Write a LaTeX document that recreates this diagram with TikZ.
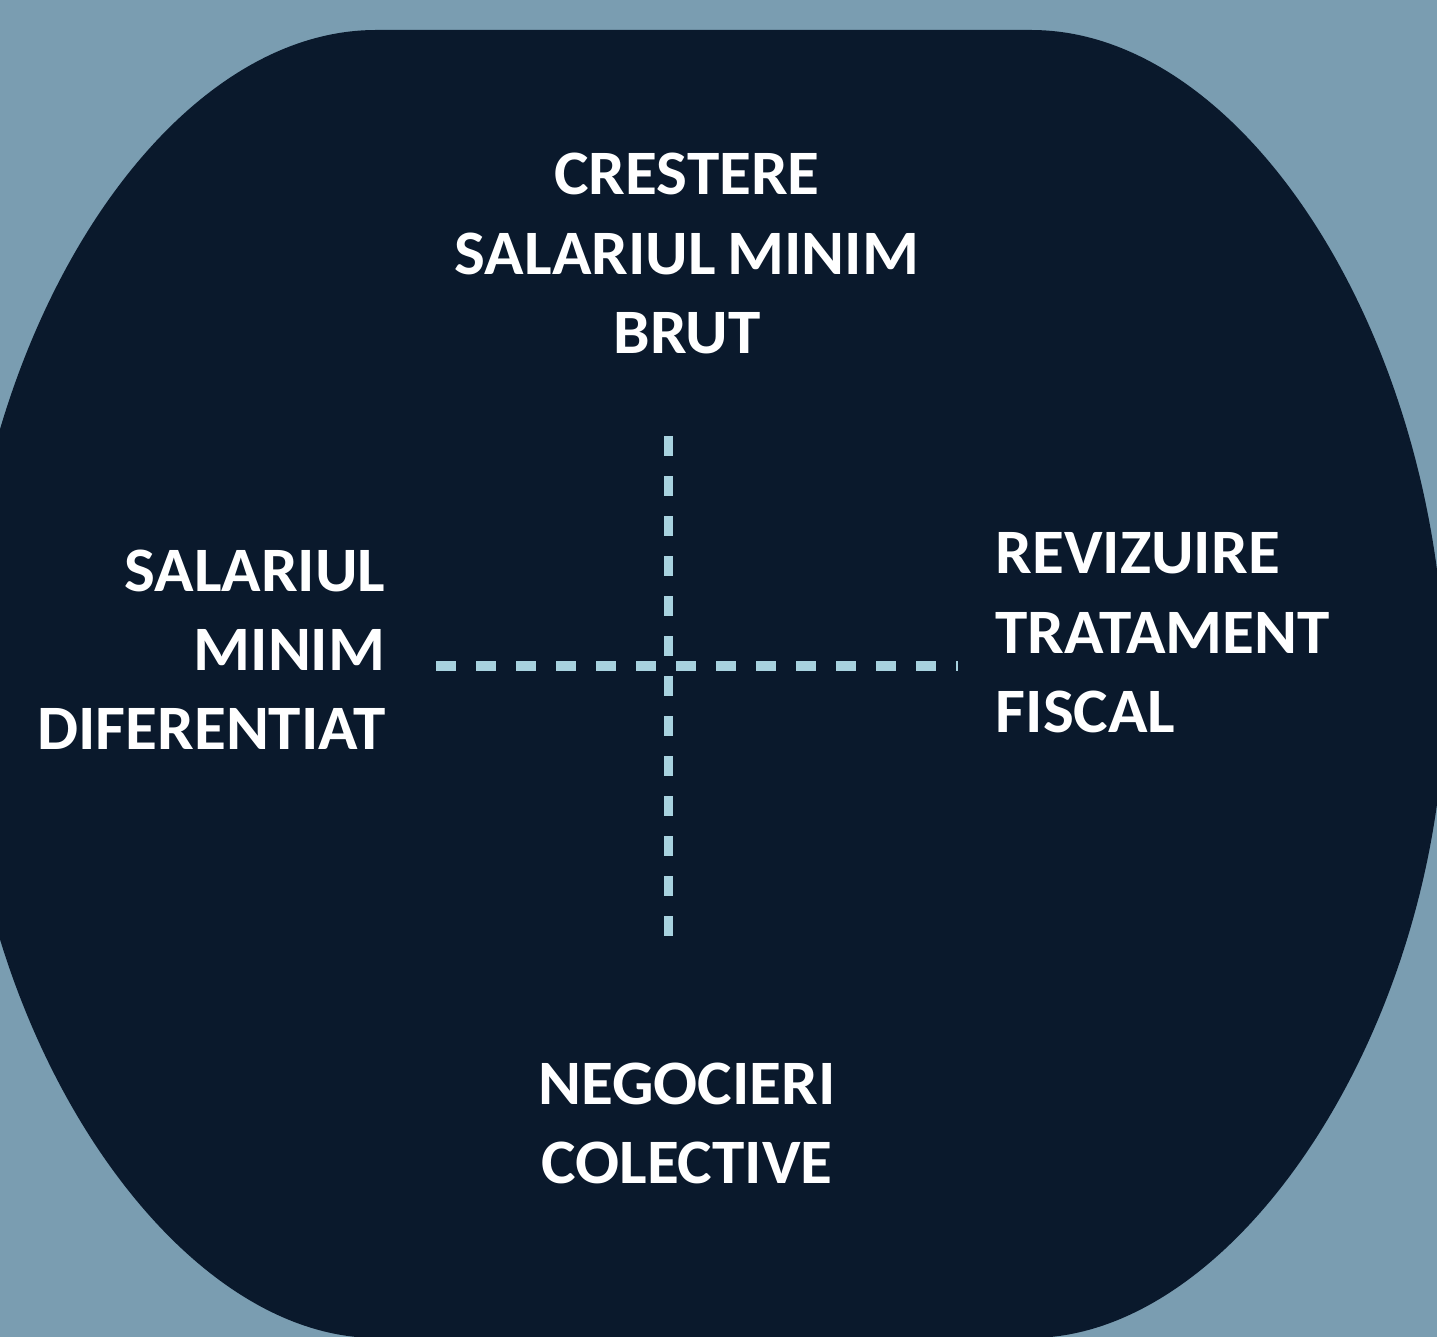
\documentclass[tikz,border=0pt]{standalone}
\usepackage{fontspec}
\setmainfont{Carlito}[FakeStretch=1.03,WordSpace=0.8]
\definecolor{slate}{HTML}{7A9DB1}
\definecolor{navy}{HTML}{0A192C}
\definecolor{iceblue}{HTML}{A8D2DF}
\begin{document}
\begin{tikzpicture}[x=0.01cm,y=-0.01cm]
\fill[slate] (0,0) rectangle (1437,1337);
\useasboundingbox (0,0) rectangle (1437,1337);
\clip (0,0) rectangle (1437,1337);

\fill[navy] (376,30) -- (1031,30)
  .. controls (1250,30) and (1445,350) .. (1445,690)
  .. controls (1445,1020) and (1240,1338) .. (1030,1338)
  -- (377,1338)
  .. controls (167,1338) and (-38,1020) .. (-38,690)
  .. controls (-38,350) and (157,30) .. (376,30) -- cycle;

\begin{scope}[every node/.style={text=white,inner sep=0pt,font=\bfseries\fontsize{18}{22.56}\selectfont}]
\node[align=center] (TOP) at (687,253.7) {CRESTERE\\SALARIUL MINIM\\BRUT};
\node[align=right,anchor=east] (LEFT) at (386,649.7) {SALARIUL\\MINIM\\DIFERENTIAT};
\node[align=left,anchor=west] (RIGHT) at (995,633) {REVIZUIRE\\TRATAMENT\\FISCAL};
\node[align=center] (BOTTOM) at (687,1123.3) {NEGOCIERI\\COLECTIVE};
\end{scope}

\coordinate (axisW) at (436,666);
\coordinate (axisE) at (958,666);
\coordinate (axisN) at (668,436);
\coordinate (axisS) at (668,936);

\begin{scope}[every edge/.style={draw=iceblue,line width=0.09cm,dash pattern=on 0.2cm off 0.2cm}]
    \path (axisW) edge (axisE);
    \path (axisN) edge (axisS);
\end{scope}
\end{tikzpicture}
\end{document}
